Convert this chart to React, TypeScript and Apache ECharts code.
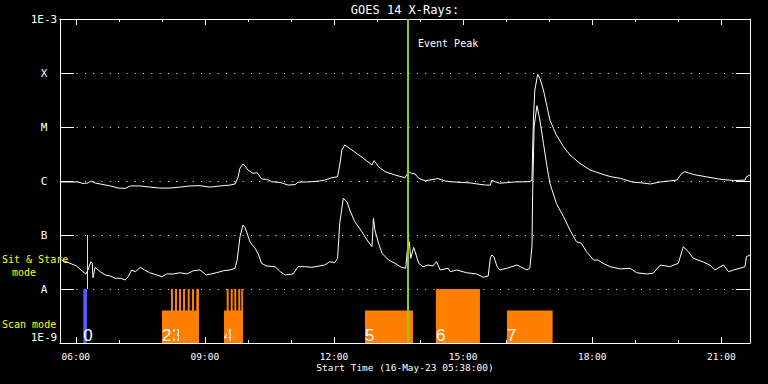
import React, { useEffect, useRef } from "react";
import * as echarts from "echarts";

// ---------- texts ----------
const TITLE = "GOES 14 X-Rays:";
const X_TITLE = "Start Time (16-May-23 05:38:00)";
const EVENT_LABEL = "Event Peak";
const SIT_LABEL = ["Sit & Stare", "mode"];
const SCAN_LABEL = "Scan mode";

// ---------- axes ----------
const X_START = "05:38";
const X_END = "21:40";
const MAJOR_TICKS = ["06:00", "09:00", "12:00", "15:00", "18:00", "21:00"];
const MINOR_TICKS = [
  "06:00", "07:00", "08:00", "09:00", "10:00", "11:00", "12:00", "13:00",
  "14:00", "15:00", "16:00", "17:00", "18:00", "19:00", "20:00", "21:00",
];
const Y_MIN = 1e-9;
const Y_MAX = 1e-3;
const Y_TICK_LABELS = ["1E-9", "A", "B", "C", "M", "X", "1E-3"];

// ---------- markers ----------
const EVENT_PEAK = "13:42:42";
const SIT_MARK_TIME = "06:16";
const SIT_MARK_FLUX = [1e-7, 1e-8];

// ---------- GOES long channel (1-8 A), W/m^2 ----------
const longChannel: [string, number][] = [
  ["05:38", 9.6e-7], ["05:52", 9.6e-7], ["06:03", 9.6e-7], ["06:10", 9.0e-7],
  ["06:17", 9.2e-7], ["06:21", 1.0e-6], ["06:27", 9.2e-7], ["06:34", 8.8e-7],
  ["06:48", 8.1e-7], ["06:59", 7.4e-7], ["07:09", 7.3e-7], ["07:16", 8.1e-7],
  ["07:30", 8.1e-7], ["07:43", 7.7e-7], ["07:57", 7.4e-7], ["08:11", 7.4e-7],
  ["08:25", 7.7e-7], ["08:39", 8.1e-7], ["08:53", 8.2e-7], ["09:07", 7.7e-7],
  ["09:21", 8.1e-7], ["09:35", 8.4e-7], ["09:42", 8.8e-7], ["09:46", 1.14e-6],
  ["09:49", 1.74e-6], ["09:53", 2.06e-6], ["09:56", 1.9e-6], ["10:00", 1.6e-6],
  ["10:07", 1.39e-6], ["10:13", 1.42e-6], ["10:19", 1.09e-6], ["10:27", 1.07e-6],
  ["10:33", 9.7e-7], ["10:45", 9.4e-7], ["10:56", 8.4e-7], ["11:06", 8.6e-7],
  ["11:10", 9.5e-7], ["11:29", 9.7e-7], ["11:40", 1.0e-6], ["11:47", 1.04e-6],
  ["11:57", 1.15e-6], ["12:05", 1.2e-6], ["12:08", 1.98e-6], ["12:11", 3.75e-6],
  ["12:15", 4.64e-6], ["12:25", 3.75e-6], ["12:39", 2.75e-6], ["12:53", 1.98e-6],
  ["12:56", 2.38e-6], ["13:02", 1.84e-6], ["13:11", 1.49e-6], ["13:25", 1.29e-6],
  ["13:39", 1.15e-6], ["13:44", 1.49e-6], ["13:48", 1.39e-6], ["13:53", 1.35e-6],
  ["13:58", 1.12e-6], ["14:07", 1.01e-6], ["14:21", 1.08e-6], ["14:24", 1.12e-6],
  ["14:35", 1.0e-6], ["14:42", 9.7e-7], ["15:10", 9.2e-7], ["15:31", 8.4e-7],
  ["15:38", 8.4e-7], ["15:40", 1.04e-6], ["15:45", 9.6e-7], ["15:51", 9.1e-7],
  ["16:12", 9.6e-7], ["16:33", 9.7e-7], ["16:36", 1.04e-6], ["16:38", 1.35e-5],
  ["16:40", 4.84e-5], ["16:44", 9.46e-5], ["16:47", 7.98e-5], ["16:52", 4.84e-5],
  ["16:57", 2.38e-5], ["17:01", 1.35e-5], ["17:06", 9.46e-6], ["17:10", 7.11e-6],
  ["17:20", 4.32e-6], ["17:29", 3.03e-6], ["17:43", 2.11e-6], ["17:57", 1.6e-6],
  ["18:11", 1.38e-6], ["18:25", 1.21e-6], ["18:39", 1.12e-6], ["18:57", 9.5e-7],
  ["19:07", 9.3e-7], ["19:21", 8.8e-7], ["19:35", 9.6e-7], ["19:58", 1.04e-6],
  ["20:05", 1.39e-6], ["20:09", 1.49e-6], ["20:21", 1.32e-6], ["20:40", 1.19e-6],
  ["20:58", 1.08e-6], ["21:17", 1.02e-6], ["21:33", 1.04e-6], ["21:35", 1.2e-6],
  ["21:40", 1.29e-6],
];

// ---------- GOES short channel (0.5-4 A), W/m^2 ----------
const shortChannel: [string, number][] = [
  ["05:38", 3.59e-8], ["05:40", 3.44e-8], ["05:52", 2.99e-8], ["06:01", 2.67e-8],
  ["06:10", 2.09e-8], ["06:14", 1.9e-8], ["06:17", 2.25e-8], ["06:21", 3.2e-8],
  ["06:23", 2.99e-8], ["06:24", 1.62e-8], ["06:27", 2.52e-8], ["06:34", 2.09e-8],
  ["06:41", 1.82e-8], ["06:48", 1.74e-8], ["06:55", 1.58e-8], ["07:02", 1.58e-8],
  ["07:09", 1.47e-8], ["07:13", 1.69e-8], ["07:18", 2.25e-8], ["07:23", 2.09e-8],
  ["07:30", 2.52e-8], ["07:36", 2.25e-8], ["07:43", 2.0e-8], ["07:53", 1.82e-8],
  ["08:00", 1.69e-8], ["08:07", 1.9e-8], ["08:16", 1.9e-8], ["08:25", 2.0e-8],
  ["08:35", 1.9e-8], ["08:44", 2.18e-8], ["08:53", 2.25e-8], ["09:02", 1.82e-8],
  ["09:09", 1.9e-8], ["09:16", 2.0e-8], ["09:26", 2.18e-8], ["09:35", 2.25e-8],
  ["09:42", 2.42e-8], ["09:45", 3.44e-8], ["09:49", 9.3e-8], ["09:53", 1.53e-7],
  ["09:56", 1.38e-7], ["10:03", 7.42e-8], ["10:10", 5.67e-8], ["10:15", 4.26e-8],
  ["10:19", 2.99e-8], ["10:26", 2.67e-8], ["10:38", 2.59e-8], ["10:45", 2.09e-8],
  ["10:52", 1.82e-8], ["11:03", 1.9e-8], ["11:10", 2.59e-8], ["11:20", 2.59e-8],
  ["11:29", 2.52e-8], ["11:47", 2.78e-8], ["11:54", 3.2e-8], ["12:01", 3.07e-8],
  ["12:05", 3.7e-8], ["12:08", 1.65e-7], ["12:13", 4.78e-7], ["12:18", 4.14e-7],
  ["12:22", 2.9e-7], ["12:29", 1.76e-7], ["12:39", 1.15e-7], ["12:46", 8.08e-8],
  ["12:53", 6.07e-8], ["12:55", 2.04e-7], ["12:57", 1.24e-7], ["13:02", 7.11e-8],
  ["13:07", 4.58e-8], ["13:16", 3.44e-8], ["13:25", 2.99e-8], ["13:34", 2.52e-8],
  ["13:40", 2.42e-8], ["13:42", 4.91e-8], ["13:45", 7.5e-8], ["13:47", 3.7e-8],
  ["13:51", 5.9e-8], ["13:53", 5.0e-8], ["13:58", 2.99e-8], ["14:04", 2.59e-8],
  ["14:11", 2.78e-8], ["14:18", 2.67e-8], ["14:23", 3.2e-8], ["14:28", 2.25e-8],
  ["14:39", 2.42e-8], ["14:42", 2.09e-8], ["14:51", 2.25e-8], ["15:05", 2.0e-8],
  ["15:19", 1.9e-8], ["15:28", 1.65e-8], ["15:35", 1.74e-8], ["15:38", 3.75e-8],
  ["15:40", 4.26e-8], ["15:43", 3.96e-8], ["15:47", 2.67e-8], ["15:51", 2.25e-8],
  ["16:01", 2.42e-8], ["16:15", 2.78e-8], ["16:29", 2.25e-8], ["16:33", 2.42e-8],
  ["16:36", 6.07e-8], ["16:37", 5.92e-7], ["16:39", 1.01e-5], ["16:43", 2.48e-5],
  ["16:47", 1.35e-5], ["16:52", 4.99e-6], ["16:57", 1.84e-6], ["17:01", 9.1e-7],
  ["17:10", 3.86e-7], ["17:20", 2.18e-7], ["17:29", 1.24e-7], ["17:38", 7.51e-8],
  ["17:45", 7.02e-8], ["17:52", 4.91e-8], ["18:02", 3.44e-8], ["18:08", 3.44e-8],
  ["18:15", 2.99e-8], ["18:25", 2.59e-8], ["18:39", 2.35e-8], ["18:53", 2.42e-8],
  ["19:02", 2.0e-8], ["19:16", 1.9e-8], ["19:25", 1.96e-8], ["19:35", 2.78e-8],
  ["19:48", 2.59e-8], ["20:00", 2.99e-8], ["20:07", 6.07e-8], ["20:14", 4.91e-8],
  ["20:21", 3.7e-8], ["20:35", 3.16e-8], ["20:44", 2.78e-8], ["20:51", 2.25e-8],
  ["21:03", 2.78e-8], ["21:10", 2.09e-8], ["21:17", 2.25e-8], ["21:26", 2.42e-8],
  ["21:33", 2.59e-8], ["21:35", 3.96e-8], ["21:40", 4.26e-8],
];

// ---------- observation blocks ----------
const blockLabels = ["0", "23", "4", "5", "6", "7"];
const blockStart = ["06:10:30", "08:00:12", "09:26:36", "12:43:12", "14:22:06", "16:01:06"];
const blockEnd = ["06:15:36", "08:51:48", "09:53:06", "13:50:06", "15:23:30", "17:04:48"];
const blockTop = [1e-8, 4e-9, 4e-9, 4e-9, 1e-8, 4e-9];
const blockMode = ["sit", "scan", "scan", "scan", "scan", "scan"];

// individual rasters inside scans 2/3 and 4
const rasterStart = [
  "08:12:42", "08:18:18", "08:23:54", "08:29:30", "08:36:00", "08:42:00", "08:48:00",
  "09:30:24", "09:36:00", "09:41:00", "09:46:30", "09:50:42",
];
const rasterEnd = [
  "08:15:30", "08:21:06", "08:26:42", "08:32:18", "08:38:48", "08:44:48", "08:51:48",
  "09:33:12", "09:38:48", "09:43:48", "09:49:18", "09:53:06",
];
const rasterTop = 1e-8;

// ---------- styling ----------
const FONT = "DejaVu Sans Mono";
const WHITE = "#ffffff";
const YELLOW = "#ffff00";
const MODE_COLOR: Record<string, string> = { sit: "#5a5aff", scan: "#ff8000" };
const EVENT_COLOR = "#99cc00";

const toMin = (s: string) => {
  const p = s.split(":").map(Number);
  return p[0] * 60 + p[1] + (p[2] || 0) / 60;
};
const fmtHM = (v: number) => {
  const h = Math.floor(Math.round(v) / 60);
  const m = Math.round(v) % 60;
  return String(h).padStart(2, "0") + ":" + String(m).padStart(2, "0");
};

function buildOption() {
  const xMin = toMin(X_START);
  const xMax = toMin(X_END);
  const major = MAJOR_TICKS.map(toMin);
  const minor = MINOR_TICKS.map(toMin);

  const xBase = {
    type: "value" as const,
    min: xMin,
    max: xMax,
    splitLine: { show: false },
  };
  const tickStyle = { color: WHITE, width: 1 };

  const yBase = {
    type: "log" as const,
    logBase: 10,
    min: Y_MIN,
    max: Y_MAX,
    axisLine: { show: true, onZero: false, lineStyle: { color: WHITE, width: 1 } },
    axisTick: { show: true, inside: true, length: 14, lineStyle: tickStyle },
    minorTick: { show: false },
  };

  const blocks = blockLabels.map((_, i) => [
    toMin(blockStart[i]),
    toMin(blockEnd[i]),
    blockTop[i],
  ]);
  const rasters = rasterStart.map((s, i) => [toMin(s), toMin(rasterEnd[i]), rasterTop]);

  return {
    animation: false,
    backgroundColor: "#000000",
    grid: { left: 60, right: 18, top: 19, bottom: 41, containLabel: false },
    xAxis: [
      {
        ...xBase,
        position: "bottom",
        axisLine: { show: true, onZero: false, lineStyle: { color: WHITE, width: 1 } },
        axisTick: { show: true, inside: true, length: 6, customValues: major, lineStyle: tickStyle },
        axisLabel: {
          show: true,
          customValues: major,
          formatter: (v: number) => fmtHM(v),
          color: WHITE,
          fontFamily: FONT,
          fontSize: 9.5,
          margin: 8,
        },
      },
      {
        ...xBase,
        position: "bottom",
        axisLine: { show: false, onZero: false },
        axisTick: { show: true, inside: true, length: 3, customValues: minor, lineStyle: tickStyle },
        axisLabel: { show: false },
      },
      {
        ...xBase,
        position: "top",
        axisLine: { show: true, onZero: false, lineStyle: { color: WHITE, width: 1 } },
        axisTick: { show: true, inside: true, length: 6, customValues: major, lineStyle: tickStyle },
        axisLabel: { show: false },
      },
      {
        ...xBase,
        position: "top",
        axisLine: { show: false, onZero: false },
        axisTick: { show: true, inside: true, length: 3, customValues: minor, lineStyle: tickStyle },
        axisLabel: { show: false },
      },
    ],
    yAxis: [
      {
        ...yBase,
        position: "left",
        axisLabel: {
          show: true,
          color: WHITE,
          fontFamily: FONT,
          fontSize: 11,
          align: "center",
          margin: 16,
          verticalAlignMinLabel: "bottom",
          verticalAlignMaxLabel: "top",
          formatter: (v: number) => {
            const k = Math.round(Math.log10(v)) + 9;
            return Y_TICK_LABELS[k] ?? "";
          },
        },
        splitLine: {
          show: true,
          showMinLine: false,
          showMaxLine: false,
          lineStyle: { color: WHITE, width: 1, type: [1, 7.3] },
        },
      },
      {
        ...yBase,
        position: "right",
        axisLabel: { show: false },
        splitLine: { show: false },
      },
    ],
    series: [
      {
        type: "custom",
        name: "blocks",
        z: 1,
        silent: true,
        xAxisIndex: 0,
        yAxisIndex: 0,
        encode: { x: [0, 1], y: 2 },
        data: blocks,
        renderItem: (params: any, api: any) => {
          const i = params.dataIndex;
          const p0 = api.coord([api.value(0), Y_MIN]);
          const p1 = api.coord([api.value(1), api.value(2)]);
          return {
            type: "group",
            children: [
              {
                type: "rect",
                shape: { x: p0[0], y: p1[1], width: p1[0] - p0[0], height: p0[1] - p1[1] },
                style: { fill: MODE_COLOR[blockMode[i]] },
              },
              {
                type: "text",
                x: p0[0],
                y: p0[1] + 1,
                style: {
                  text: blockLabels[i],
                  fill: WHITE,
                  fontFamily: "Liberation Sans",
                  fontSize: 17,
                  align: "left",
                  verticalAlign: "bottom",
                },
              },
            ],
          };
        },
      },
      {
        type: "custom",
        name: "rasters",
        z: 1,
        silent: true,
        xAxisIndex: 0,
        yAxisIndex: 0,
        encode: { x: [0, 1], y: 2 },
        data: rasters,
        renderItem: (params: any, api: any) => {
          const p0 = api.coord([api.value(0), Y_MIN]);
          const p1 = api.coord([api.value(1), api.value(2)]);
          return {
            type: "rect",
            shape: { x: p0[0], y: p1[1], width: p1[0] - p0[0], height: p0[1] - p1[1] },
            style: { fill: MODE_COLOR.scan },
          };
        },
      },
      {
        type: "line",
        name: "short",
        z: 3,
        silent: true,
        showSymbol: false,
        symbol: "none",
        xAxisIndex: 0,
        yAxisIndex: 0,
        data: shortChannel.map(([t, f]) => [toMin(t), f]),
        lineStyle: { color: WHITE, width: 1 },
        markLine: {
          silent: true,
          symbol: ["none", "none"],
          label: { show: false },
          lineStyle: { color: YELLOW, width: 1, type: "solid" },
          data: [
            [
              { coord: [toMin(SIT_MARK_TIME), SIT_MARK_FLUX[0]] },
              { coord: [toMin(SIT_MARK_TIME), SIT_MARK_FLUX[1]] },
            ],
          ],
        },
      },
      {
        type: "line",
        name: "long",
        z: 4,
        silent: true,
        showSymbol: false,
        symbol: "none",
        xAxisIndex: 0,
        yAxisIndex: 0,
        data: longChannel.map(([t, f]) => [toMin(t), f]),
        lineStyle: { color: WHITE, width: 1 },
        markLine: {
          silent: true,
          symbol: ["none", "none"],
          label: { show: false },
          lineStyle: { color: EVENT_COLOR, width: 2, type: "solid" },
          data: [{ xAxis: toMin(EVENT_PEAK) }],
        },
      },
    ],
    graphic: [
      {
        type: "text",
        x: 405,
        y: 10,
        style: {
          text: TITLE, fill: WHITE, fontFamily: FONT, fontSize: 12,
          align: "center", verticalAlign: "middle", textAlign: "center", textVerticalAlign: "middle",
        },
      },
      {
        type: "text",
        x: 405,
        y: 367,
        style: {
          text: X_TITLE, fill: WHITE, fontFamily: FONT, fontSize: 9.5,
          align: "center", verticalAlign: "middle", textAlign: "center", textVerticalAlign: "middle",
        },
      },
      {
        type: "text",
        x: 418,
        y: 43,
        z: 10,
        style: {
          text: EVENT_LABEL, fill: WHITE, fontFamily: FONT, fontSize: 10,
          align: "left", verticalAlign: "middle", textAlign: "left", textVerticalAlign: "middle",
        },
      },
      {
        type: "text",
        x: 2,
        y: 259,
        z: 10,
        style: {
          text: SIT_LABEL[0], fill: YELLOW, fontFamily: FONT, fontSize: 10,
          align: "left", verticalAlign: "middle", textAlign: "left", textVerticalAlign: "middle",
        },
      },
      {
        type: "text",
        x: 24,
        y: 272,
        z: 10,
        style: {
          text: SIT_LABEL[1], fill: YELLOW, fontFamily: FONT, fontSize: 10,
          align: "center", verticalAlign: "middle", textAlign: "center", textVerticalAlign: "middle",
        },
      },
      {
        type: "text",
        x: 2,
        y: 324,
        z: 10,
        style: {
          text: SCAN_LABEL, fill: YELLOW, fontFamily: FONT, fontSize: 10,
          align: "left", verticalAlign: "middle", textAlign: "left", textVerticalAlign: "middle",
        },
      },
    ],
  };
}

export default function App() {
  const ref = useRef<HTMLDivElement>(null);
  useEffect(() => {
    if (!ref.current) return;
    const chart = echarts.init(ref.current, null, { renderer: "svg" });
    chart.setOption(buildOption() as any);
    return () => chart.dispose();
  }, []);
  return (
    <div
      ref={ref}
      style={{ position: "fixed", left: 0, top: 0, width: 768, height: 384, background: "#000" }}
    />
  );
}
